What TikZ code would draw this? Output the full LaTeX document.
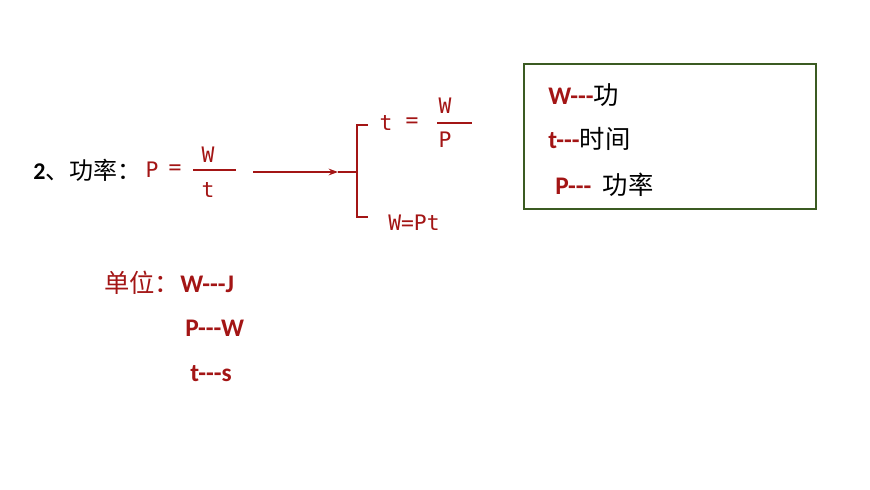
\documentclass[tikz,border=0pt]{standalone}
\usepackage{fontspec}
\setmainfont{Carlito}
\newfontfamily\cjk{Noto Sans CJK SC}
\newfontfamily\formula{DejaVu Sans Mono}
\usetikzlibrary{positioning,arrows.meta}
\definecolor{darkred}{HTML}{A31515}
\definecolor{boxgreen}{HTML}{3B5B22}
\tikzset{
  redtxt/.style={text=darkred, font=\formula\fontsize{16}{19}\selectfont, inner sep=0pt},
  blktxt/.style={font=\fontsize{19}{22}\selectfont\bfseries, inner sep=0pt, anchor=west},
}
\begin{document}
\begin{tikzpicture}[x=0.75pt,y=-0.75pt]
		\useasboundingbox (0,0) rectangle (870,489);
		
		% Left formula
		\node[blktxt, font=\fontsize{18}{21}\selectfont\bfseries] (title) at (33,170) {2{\cjk\mdseries 、功率：}};
		\node[redtxt] (P) at (152,170) {P};
		\node[redtxt] (eq) at (175,170) {=};
		\node[redtxt] (W) at (208,155) {W};
		\node[redtxt] (t) at (208,190) {t};
		\draw[darkred, thick] (193,170) -- (236,170);
		
		% Arrow to bracket
		\coordinate (a0) at (253,172);
		\coordinate (a1) at (338,172);
		\draw[darkred, line width=1.5pt, -{Stealth[length=7pt,width=5pt]}] (a0) -- (a1);
		\draw[darkred, thick] (a1) -- (357,172);
		\draw[darkred, line width=1.2pt] (368,125) -- (357,125) -- (357,217) -- (368,217);
		
		% Right formulas
		\node[redtxt] (t2) at (386,123) {t};
		\node[redtxt] (eq2) at (412,123) {=};
		\node[redtxt] (W2) at (445,106) {W};
		\node[redtxt] (P2) at (445,140) {P};
		\draw[darkred, thick] (437,123) -- (472,123);
		\node[redtxt, anchor=west] (WPt) at (388,223) {W=Pt};
		
		% Symbol box
		\draw[boxgreen, line width=1.5pt] (524,64) rectangle (816,209);
		\node[blktxt, text=darkred] (k1) at (548,95) {W-{}-{}-{\cjk\mdseries\color{black}功}};
		\node[blktxt, text=darkred] (k2) at (548,139) {t-{}-{}-{\cjk\mdseries\color{black}时间}};
		\node[blktxt, text=darkred] (k3) at (555,185) {P-{}-{}-\ \ {\cjk\mdseries\color{black}功率}};
		
		% Units
		\node[blktxt, text=darkred] (u1) at (104,283) {{\cjk\mdseries 单位：}W-{}-{}-J};
		\node[blktxt, text=darkred] (u2) at (185,328) {P-{}-{}-W};
		\node[blktxt, text=darkred] (u3) at (190,374) {t-{}-{}-s};
		
	\end{tikzpicture}
\end{document}
